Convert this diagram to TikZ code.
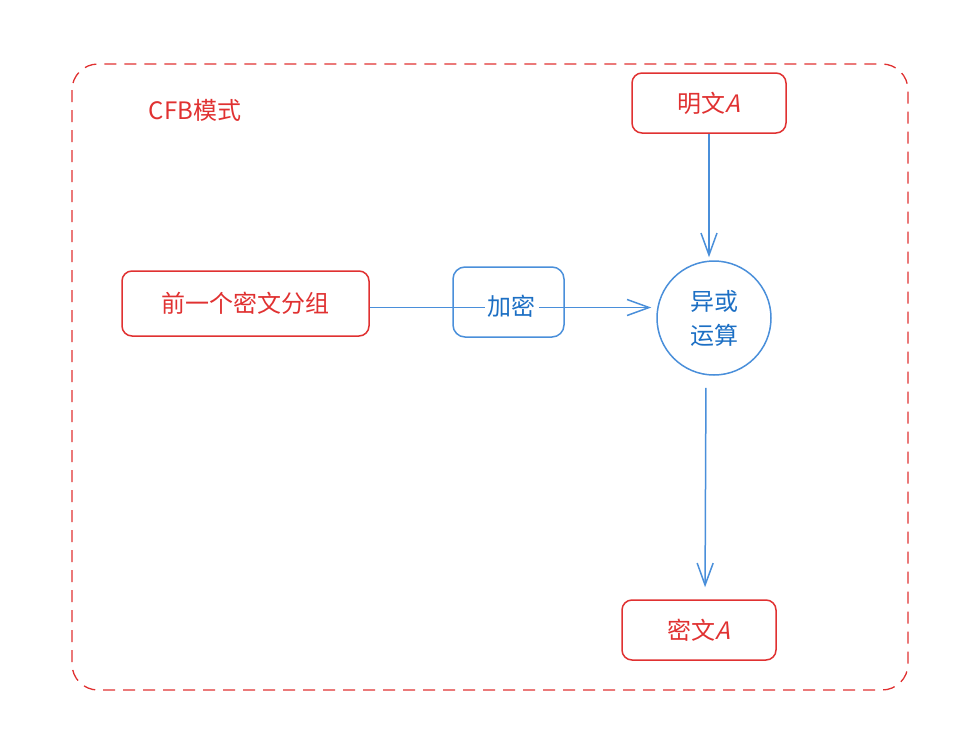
\documentclass[tikz,border=0pt]{standalone}
\usepackage{fontspec}
\setmainfont{Noto Sans CJK SC}[ItalicFont=Noto Sans CJK SC, ItalicFeatures={FakeSlant=0.25}]
\usepackage{tikz}
\usetikzlibrary{arrows.meta}
\definecolor{xred}{HTML}{E03131}
\definecolor{xblue}{HTML}{1C6FC4}
\definecolor{xline}{HTML}{4A8FDA}
\tikzset{
  redbox/.style={draw=xred, line width=1.5pt, rounded corners=10pt, text=xred, align=center},
  bluebox/.style={draw=xline, line width=1.5pt, rounded corners=12pt},
  flow/.style={draw=xline, line width=1.5pt, -{Straight Barb[length=22pt,width=16pt,line width=1.5pt]}}
}
\begin{document}
\begin{tikzpicture}[x=1pt, y=-1pt, font=\fontsize{24}{30}\selectfont]
  \useasboundingbox (0,0) rectangle (961,736);
  % Frame
  \draw[xred, line width=1.3pt, dash pattern=on 12pt off 8pt, rounded corners=26pt]
    (72,64) rectangle (908,690);
  \node[text=xred] (title) at (195,110) {CFB模式};
  % Boxes
  \node[redbox, minimum width=154pt, minimum height=60pt] (plain) at (709,103) {明文\textit{A}};
  \node[redbox, minimum width=247pt, minimum height=65pt] (prev) at (245.5,303.5) {前一个密文分组};
  \node[bluebox, minimum width=111pt, minimum height=70pt] (enc) at (508.5,302) {};
  \node[circle, draw=xline, line width=1.5pt, minimum size=114pt, text=xblue,
        align=center, font=\fontsize{24}{34}\selectfont] (xor) at (714,318) {异或\\运算};
  \node[redbox, minimum width=154pt, minimum height=60pt] (cipher) at (699,630) {密文\textit{A}};
  % Arrows
  \draw[flow, shorten >=3pt] (plain.south) -- (plain.south |- xor.north);
  \draw[flow, shorten >=5pt] ([yshift=-4pt]prev.east) -- ([yshift=-4pt]prev.east -| xor.west);
  \node[fill=white, text=xblue, inner sep=3pt] (enctext) at ([xshift=3pt,yshift=-4pt]enc.center) {加密};
  \draw[flow, shorten <=12pt, shorten >=12pt] ([xshift=-8pt]xor.south) -- ([xshift=6pt]cipher.north);
\end{tikzpicture}
\end{document}
